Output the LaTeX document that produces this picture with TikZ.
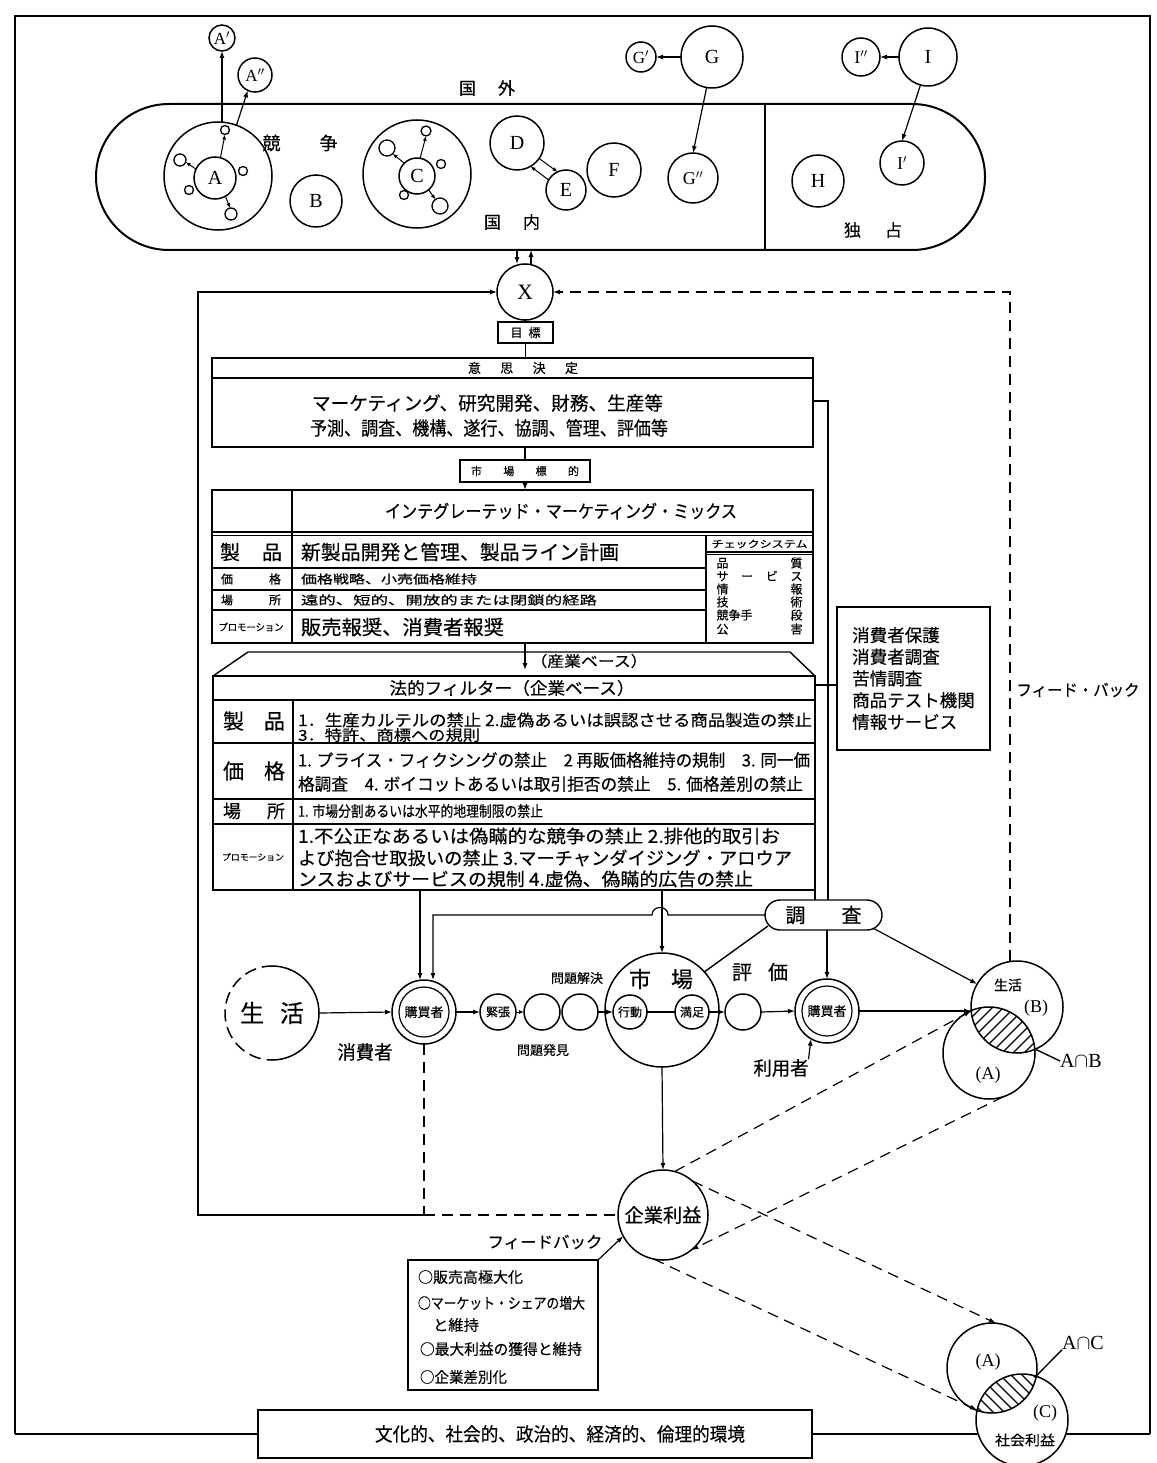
\documentclass[tikz,border=0pt]{standalone}
\usepackage{fontspec}
\usepackage{graphicx}
\setmainfont{Liberation Serif}
\newfontfamily\jp[FakeBold=0.35]{Noto Sans CJK JP}
\usetikzlibrary{arrows.meta,shapes.misc,calc}
\newcommand\FS[1]{\fontsize{#1pt}{#1pt}\selectfont}
\newcommand\sw[3]{{\jp\FS{#1}\resizebox{#2}{\height}{#3}}}
\begin{document}
\begin{tikzpicture}[x=1pt,y=-1pt,
  every node/.style={inner sep=0pt,outer sep=0pt},
  ln/.style={line width=1.4pt},
  arr/.style={line width=1.2pt,-{Latex[length=7pt,width=5pt]}},
  sarr/.style={line width=1pt,-{Latex[length=5pt,width=4pt]}},
  dsh/.style={line width=1.5pt,dash pattern=on 11pt off 7pt},
  circ/.style={circle,draw,line width=1.5pt,inner sep=0pt},
  sc/.style={circle,draw,line width=1.3pt,inner sep=0pt},
  box/.style={draw,rectangle,line width=1.4pt}]
\useasboundingbox (0,0) rectangle (1156,1463);
% ---------- coordinates
\coordinate (fTL) at (15,16); \coordinate (fTR) at (1150,16);
\coordinate (fBL) at (15,1434); \coordinate (fBR) at (1150,1434);
\coordinate (dv) at (765,0);
\coordinate (ox1) at (517,0); \coordinate (ox2) at (531,0);
\coordinate (Lx) at (198,292); \coordinate (Rx) at (1010,0);
\coordinate (cor) at (424,1215);
\coordinate (dR) at (828,401);
\coordinate (fc) at (0,685);
\coordinate (fa) at (525,670);
\coordinate (roofL) at (248,652); \coordinate (roofR) at (790,652);
\coordinate (hmpR) at (668,915); \coordinate (hmpL) at (652,915);
\coordinate (bx2) at (433,915); \coordinate (bx1) at (420,0);
\coordinate (sv1) at (768,926);
\coordinate (VIl) at (971,1011); \coordinate (VIr) at (1035,1049); \coordinate (VI0) at (1003,1030);
\coordinate (WIl) at (977,1410); \coordinate (WIr) at (1036,1376); \coordinate (WI0) at (1007,1393);
% ---------- frame
\draw[line width=1.6pt] (fBL) -- (fTL) -- (fTR) -- (fBR);
% ---------- top area
\node[draw,line width=2pt,rounded corners=73pt,minimum width=889pt,minimum height=146pt] (oval) at (540.5,177) {};
\draw[ln] (oval.north -| dv) -- (oval.south -| dv);
\node (kgai) at (487,88) {\jp\FS{17}\hbox to 56pt{国\hfill 外}};
\node (kyo) at (300,143) {\jp\FS{18}\hbox to 75pt{競\hfill 争}};
\node (knai) at (512,222) {\jp\FS{17}\hbox to 56pt{国\hfill 内}};
\node (doku) at (873,230) {\jp\FS{17}\hbox to 58pt{独\hfill 占}};
\node[circ,minimum size=26pt] (A1) at (222,38) {\FS{17}A$'$};
\node[circ,minimum size=34pt] (A2) at (255,75) {\FS{17}A$''$};
\node[circ,minimum size=30pt] (G1) at (641,57) {\FS{17}G$'$};
\node[circ,minimum size=62pt] (G) at (712,57) {\FS{20}G};
\node[circ,minimum size=38pt] (I2) at (861,57) {\FS{18}I$''$};
\node[circ,minimum size=58pt] (I) at (928,57) {\FS{20}I};
\node[circ,minimum size=108pt] (Aring) at (218,176) {};
\node[circ,minimum size=42pt] (Ain) at (215,178) {\FS{20}A};
\node[sc,minimum size=9pt] (a1) at (225,130) {};
\node[sc,minimum size=12pt] (a2) at (180,160) {};
\node[sc,minimum size=9pt] (a3) at (243,171) {};
\node[sc,minimum size=9pt] (a4) at (189,190) {};
\node[sc,minimum size=12pt] (a5) at (231,214) {};
\node[circ,minimum size=52pt] (B) at (316,201) {\FS{20}B};
\node[circ,minimum size=108pt] (Cring) at (417,174) {};
\node[circ,minimum size=36pt] (Cin) at (417,176) {\FS{20}C};
\node[sc,minimum size=16pt] (c1) at (387,148) {};
\node[sc,minimum size=10pt] (c2) at (426,131) {};
\node[sc,minimum size=9pt] (c3) at (441,164) {};
\node[sc,minimum size=9pt] (c4) at (404,195) {};
\node[sc,minimum size=16pt] (c5) at (440,206) {};
\node[circ,minimum size=54pt] (D) at (517,143) {\FS{20}D};
\node[circ,minimum size=40pt] (E) at (566,190) {\FS{20}E};
\node[circ,minimum size=54pt] (F) at (614,170) {\FS{20}F};
\node[circ,minimum size=50pt] (G2) at (693,178) {\FS{18}G$''$};
\node[circ,minimum size=52pt] (H) at (818,181) {\FS{20}H};
\node[circ,minimum size=44pt] (I1) at (902,163) {\FS{18}I$'$};
\draw[arr] (A1.south |- Aring.north) -- (A1.south);
\draw[arr] (Aring.70) -- (A2.245);
\draw[arr] (G.west) -- (G1.east);
\draw[arr] (G.260) -- (G2.north);
\draw[arr] (I.west) -- (I2.east);
\draw[arr] (I.255) -- (I1.north);
\draw[sarr] (Ain.75) -- (a1.south);
\draw[sarr] (Ain.155) -- (a2.-20);
\draw[sarr] (Ain.-60) -- (a5.100);
\draw[sarr] (Cin.135) -- (c1.-45);
\draw[sarr] (Cin.80) -- (c2.south);
\draw[sarr] (Cin.-50) -- (c5.125);
\draw[sarr] (D.-35) -- (E.115);
\draw[sarr] (E.150) -- (D.-60);
% ---------- X and decision
\node[circ,minimum size=56pt] (X) at (525,292) {\FS{22}X};
\draw[arr] (oval.south -| ox1) -- (X.north -| ox1);
\draw[arr] (X.north -| ox2) -- (oval.south -| ox2);
\node[box,minimum width=55pt,minimum height=21pt] (goal) at (525.5,332.5) {\jp\FS{12}\hbox to 30pt{目\hfill 標}};
\draw[ln] (X.south) -- (goal.north -| X.south);
\node[box,minimum width=601pt,minimum height=89pt,anchor=north west] (dec) at (212,358) {};
\draw[ln] ($(dec.north west)+(0,20)$) -- ($(dec.north east)+(0,20)$);
\draw[ln] (goal.south) -- (goal.south |- dec.north);
\node (dect) at (523,368) {\jp\FS{13}\hbox to 110pt{意\hfill 思\hfill 決\hfill 定}};
\node[anchor=west] (dl1) at (312,403) {\sw{19}{351pt}{マーケティング、研究開発、財務、生産等}};
\node[anchor=west] (dl2) at (310,428) {\sw{19}{358pt}{予測、調査、機構、遂行、協調、管理、評価等}};
\node[box,minimum width=130pt,minimum height=22pt] (tgt) at (525,471) {\jp\FS{11}\hbox to 108pt{市\hfill 場\hfill 標\hfill 的}};
\draw[ln] (tgt.north |- dec.south) -- (tgt.north);
% ---------- marketing mix
\node[box,minimum width=601pt,minimum height=153pt,anchor=north west] (mix) at (212,490) {};
\draw[arr] (tgt.south) -- (tgt.south |- mix.north);
\draw[ln] (212,532) -- (813,532);
\draw[ln] (212,535.5) -- (813,535.5);
\draw[ln] (292,490) -- (292,643);
\draw[ln] (706,535.5) -- (706,643);
\draw[ln] (212,568) -- (706,568);
\draw[ln] (212,590) -- (706,590);
\draw[ln] (212,610) -- (706,610);
\draw[ln] (706,552) -- (813,552);
\draw[line width=0.8pt] (706,554.5) -- (813,554.5);
\node (mixh) at (561,511) {\sw{18}{352pt}{インテグレーテッド・マーケティング・ミックス}};
\node (m1l) at (251,552) {\jp\FS{20}\hbox to 62pt{製\hfill 品}};
\node[anchor=west] (m1) at (301,552) {\sw{20}{318pt}{新製品開発と管理、製品ライン計画}};
\node (m2l) at (251,579) {\jp\FS{12}\hbox to 60pt{価\hfill 格}};
\node[anchor=west] (m2) at (301,579) {\sw{12}{176pt}{価格戦略、小売価格維持}};
\node (m3l) at (251,600) {\jp\FS{12}\hbox to 60pt{場\hfill 所}};
\node[anchor=west] (m3) at (301,600) {\sw{12}{296pt}{遠的、短的、開放的または閉鎖的経路}};
\node (m4l) at (251,627) {\sw{10}{65pt}{プロモーション}};
\node[anchor=west] (m4) at (301,627) {\sw{20}{203pt}{販売報奨、消費者報奨}};
\node (chk) at (759.5,544) {\sw{10}{96pt}{チェックシステム}};
\node (ck1) at (759.5,563) {\jp\FS{12}\hbox to 86pt{品\hfill 質}};
\node (ck2) at (759.5,576) {\jp\FS{12}\hbox to 86pt{サ\hfill ー\hfill ビ\hfill ス}};
\node (ck3) at (759.5,589) {\jp\FS{12}\hbox to 86pt{情\hfill 報}};
\node (ck4) at (759.5,602) {\jp\FS{12}\hbox to 86pt{技\hfill 術}};
\node (ck5) at (759.5,615) {\jp\FS{12}\hbox to 86pt{競争手\hfill 段}};
\node (ck6) at (759.5,629) {\jp\FS{12}\hbox to 86pt{公\hfill 害}};
% ---------- legal filter
\node[box,minimum width=602pt,minimum height=214pt,anchor=north west] (filt) at (213,676) {};
\draw[ln] (filt.north west) -- (roofL) -- (roofR) -- (filt.north east);
\draw[arr] (mix.south -| fa) -- (fa);
\node (sangyo) at (589,661) {\sw{15}{117pt}{（産業ベース）}};
\draw[ln] (213,700) -- (815,700);
\draw[ln] (293,700) -- (293,890);
\draw[ln] (213,743) -- (815,743);
\draw[ln] (213,799) -- (815,799);
\draw[ln] (213,824) -- (815,824);
\node (fh) at (512,688) {\sw{17}{245pt}{法的フィルター（企業ベース）}};
\node (f1l) at (254,721) {\jp\FS{21}\hbox to 62pt{製\hfill 品}};
\node[anchor=west] (f1a) at (298,720) {\sw{16}{514pt}{1．生産カルテルの禁止 2.虚偽あるいは誤認させる商品製造の禁止}};
\node[anchor=west] (f1b) at (298,735) {\sw{15}{182pt}{3．特許、商標への規則}};
\node (f2l) at (254,771) {\jp\FS{21}\hbox to 62pt{価\hfill 格}};
\node[anchor=west] (f2a) at (298,760) {\sw{17}{512pt}{1. プライス・フィクシングの禁止　2 再販価格維持の規制　3. 同一価}};
\node[anchor=west] (f2b) at (298,784) {\sw{17}{505pt}{格調査　4. ボイコットあるいは取引拒否の禁止　5. 価格差別の禁止}};
\node (f3l) at (254,811) {\jp\FS{18}\hbox to 62pt{場\hfill 所}};
\node[anchor=west] (f3a) at (298,811) {\sw{15}{245pt}{1. 市場分割あるいは水平的地理制限の禁止}};
\node (f4l) at (253,857) {\sw{9}{62pt}{プロモーション}};
\node[anchor=west] (f4a) at (298,836) {\sw{18}{482pt}{1.不公正なあるいは偽瞞的な競争の禁止 2.排他的取引お}};
\node[anchor=west] (f4b) at (298,858) {\sw{18}{494pt}{よび抱合せ取扱いの禁止 3.マーチャンダイジング・アロウア}};
\node[anchor=west] (f4c) at (298,879) {\sw{18}{455pt}{ンスおよびサービスの規制 4.虚偽、偽瞞的広告の禁止}};
% ---------- consumer box, research
\node[box,minimum width=153pt,minimum height=143pt,align=left,font=\jp\fontsize{17.5pt}{21.7pt}\selectfont] (cb) at (913.5,678.5) {消費者保護\\消費者調査\\苦情調査\\商品テスト機関\\情報サービス};
\node (fb1) at (1078,690) {\sw{16}{123pt}{フィード・バック}};
\node[rounded rectangle,draw,line width=1.4pt,minimum width=117pt,minimum height=30pt] (sv) at (823.5,915) {\jp\FS{20}\hbox to 76pt{調\hfill 査}};
\draw[ln] (dec.east |- dR) -- (dR) -- (dR |- sv.north);
\draw[ln] (filt.south east) -- (filt.south east |- sv.north);
\draw[ln] (filt.east |- fc) -- (cb.west |- fc);
% ---------- flow row
\node[circle,minimum size=94pt] (life) at (272,1013) {\jp\FS{24}\hbox to 64pt{生\hfill 活}};
\begin{scope}
\clip (272,950) rectangle (330,1080);
\draw[line width=1.5pt] (life.center) circle[radius=47pt];
\end{scope}
\begin{scope}
\clip (210,950) rectangle (272,1080);
\draw[line width=1.5pt,dash pattern=on 12pt off 6pt] (life.center) circle[radius=47pt];
\end{scope}
\node[circ,minimum size=64pt] (buy1) at (424,1012) {};
\node[circ,minimum size=50pt,line width=1.2pt] (buy1i) at (buy1) {\jp\FS{13}購買者};
\node[circ,minimum size=36pt] (kin) at (498,1012) {\jp\FS{12}緊張};
\node[circ,minimum size=36pt] (e2) at (542,1012) {};
\node[circ,minimum size=36pt] (e3) at (580,1012) {};
\node[circ,minimum size=114pt] (mkt) at (662,1010) {};
\node (mktl) at (661,979) {\jp\FS{22}\hbox to 64pt{市\hfill 場}};
\node[circ,minimum size=34pt] (act) at (630,1012) {\jp\FS{12}行動};
\node[circ,minimum size=34pt] (sat) at (692,1012) {\jp\FS{12}満足};
\node[circ,minimum size=36pt] (e4) at (743,1012) {};
\node[circ,minimum size=64pt] (buy2) at (827,1011) {};
\node[circ,minimum size=50pt,line width=1.2pt] (buy2i) at (buy2) {\jp\FS{13}購買者};
\node (shohi) at (365,1052) {\sw{19}{55pt}{消費者}};
\node (kaik) at (577,978) {\sw{13}{52pt}{問題解決}};
\node (hakk) at (543,1050) {\sw{13}{52pt}{問題発見}};
\node (hyo) at (760,972) {\jp\FS{20}\hbox to 56pt{評\hfill 価}};
\node (riyo) at (781,1068) {\sw{19}{55pt}{利用者}};
\draw[arr] (life.east) -- (buy1.west);
\draw[arr] (buy1.east) -- (kin.west);
\draw[sarr] (kin.east) -- (e2.west);
\draw[arr] (e3.east) -- (act.west);
\draw[ln] (act.east) -- (sat.west);
\draw[arr] (sat.east) -- (e4.west);
\draw[arr] (e4.east) -- (buy2.west);
\draw[arr] (riyo.north east) -- (buy2.240);
\draw[arr] (filt.south -| bx1) -- (buy1.north -| bx1);
\draw[arr] (sv.west) -- (hmpR) .. controls (668,905) and (652,905) .. (hmpL) -- (bx2) -- (buy1.north -| bx2);
\draw[arr] (filt.south -| mkt.north) -- (mkt.north);
\draw[ln] (sv1) -- (mkt.42);
\draw[arr] (sv.south -| buy2.north) -- (buy2.north);
% ---------- Venn top
\node[circ,minimum size=92pt] (VB) at (1017,1007) {};
\node[circ,minimum size=92pt] (VA) at (989,1053) {};
\begin{scope}
\clip (VB.center) circle[radius=46pt];
\clip (VA.center) circle[radius=46pt];
\foreach \k in {-99,-88,...,99} \draw[line width=1.2pt] ($(VI0)+(\k-60,60)$) -- ($(VI0)+(\k+60,-60)$);
\end{scope}
\node (seik) at (1008,985) {\jp\FS{14}生活};
\node (lB) at (1036,1008) {\FS{18}(B)};
\node (lA) at (988,1075) {\FS{18}(A)};
\node[anchor=west] (AB) at (1060,1061) {\FS{20}A$\cap$B};
\draw[ln] (VIr) -- (AB.west);
\draw[arr] (buy2.east) -- (VIl);
\draw[arr] (sv.-15) -- (VB.150);
\draw[dsh,arr] (VB.north -| Rx) |- (X.east);
\draw[arr] (cor) -| (Lx) -- (X.west);
% ---------- profit
\node[circ,minimum size=90pt] (prof) at (663,1215) {\sw{19}{77pt}{企業利益}};
\draw[dsh] (buy1.south) -- (cor);
\draw[dsh] (cor) -- (prof.west);
\draw[arr] (mkt.south) -- (prof.north);
\node[box,minimum width=190pt,minimum height=130pt,anchor=north west] (goals) at (408,1260) {};
\node[anchor=west] (g1) at (418,1277) {\sw{15}{105pt}{○販売高極大化}};
\node[anchor=west] (g2) at (418,1303) {\sw{15}{167pt}{○マーケット・シェアの増大}};
\node[anchor=west] (g3) at (433,1325) {\sw{15}{46pt}{と維持}};
\node[anchor=west] (g4) at (420,1349) {\sw{15}{162pt}{○最大利益の獲得と維持}};
\node[anchor=west] (g5) at (420,1377) {\sw{15}{87pt}{○企業差別化}};
\node (fbk) at (545,1242) {\sw{16}{115pt}{フィードバック}};
\draw[arr] (goals.north east) -- (prof.208);
% ---------- environment and bottom Venn
\node[box,minimum width=554pt,minimum height=48pt] (env) at (535,1434) {};
\node (envt) at (560,1434) {\sw{19}{370pt}{文化的、社会的、政治的、経済的、倫理的環境}};
\draw[line width=1.6pt] (env.west) -- (fBL);
\draw[line width=1.6pt] (env.east) -- (fBR);
\node[circle,fill=white,minimum size=92pt] (VCf) at (1022,1420) {};
\node[circ,minimum size=90pt] (VA2) at (992,1368) {};
\node[circ,minimum size=92pt] (VC) at (1022,1420) {};
\begin{scope}
\clip (VA2.center) circle[radius=45pt];
\clip (VC.center) circle[radius=46pt];
\foreach \k in {-99,-88,...,99} \draw[line width=1.2pt] ($(WI0)+(\k-60,-60)$) -- ($(WI0)+(\k+60,60)$);
\end{scope}
\node (lA2) at (988,1362) {\FS{18}(A)};
\node (lC) at (1045,1413) {\FS{18}(C)};
\node (shakai) at (1025,1440) {\sw{14}{60pt}{社会利益}};
\node (AC) at (1083,1343) {\FS{20}A$\cap$C};
\draw[ln] (WIr) -- (AC.south west);
% ---------- dashed profit links
\draw[dsh,arr] (prof.75) -- (VIl);
\draw[dsh,arr] (VA.-72) -- (prof.-51);
\draw[dsh,arr] (prof.49) -- (VA2.85);
\draw[dsh,arr] (prof.-102) -- (WIl);
\end{tikzpicture}
\end{document}
